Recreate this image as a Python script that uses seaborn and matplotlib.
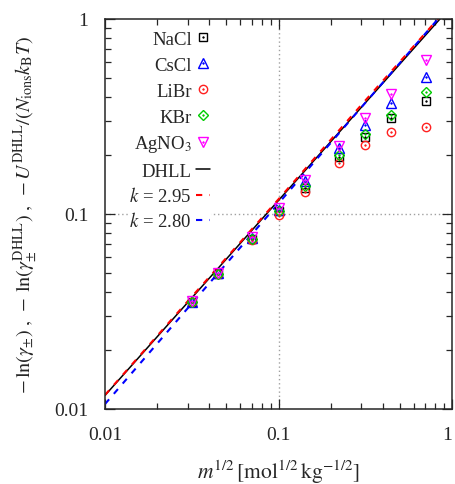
import numpy as np
import matplotlib
matplotlib.use("Agg")
import matplotlib.pyplot as plt
import seaborn as sns
from matplotlib.legend_handler import HandlerTuple
from matplotlib.ticker import LogLocator, FixedLocator, FixedFormatter, NullFormatter

# ---------------- data ----------------
sqrt_m = [0.0316, 0.0447, 0.0707, 0.1, 0.1414, 0.2236, 0.3162, 0.4472, 0.7071]
NaCl  = [0.0355, 0.0495, 0.0745, 0.103, 0.136, 0.196, 0.247, 0.310, 0.381]
CsCl  = [0.0355, 0.0497, 0.0755, 0.105, 0.148, 0.217, 0.286, 0.370, 0.502]
LiBr  = [0.0353, 0.0490, 0.0735, 0.099, 0.130, 0.183, 0.226, 0.264, 0.280]
KBr   = [0.0355, 0.0495, 0.0745, 0.103, 0.140, 0.201, 0.257, 0.322, 0.421]
AgNO3 = [0.0357, 0.0500, 0.0765, 0.107, 0.150, 0.224, 0.310, 0.412, 0.616]

line_x   = [0.01, 0.03, 0.1, 0.3, 1.0]
dhll_y   = [0.01174, 0.03522, 0.1174, 0.3522, 1.174]
k295_y   = [0.0118, 0.0357, 0.119, 0.362, 1.205]
k280_y   = [0.0106, 0.0329, 0.1133, 0.352, 1.21]

series_names = ["NaCl", "CsCl", "LiBr", "KBr", r"AgNO$_3$"]
series_vals = [NaCl, CsCl, LiBr, KBr, AgNO3]
series_colors = ["black", "#0000ff", "#ff2020", "#00cc00", "#ff00ff"]
series_markers = ["s", "^", "o", "D", "v"]
series_ms = [5.5, 6.5, 6.0, 5.5, 6.5]

tick_vals = [0.01, 0.1, 1]
tick_labels = ["0.01", "0.1", "1"]

# ---------------- style ----------------
sns.set_style("ticks")
plt.rcParams["font.family"] = ["Liberation Serif", "DejaVu Serif"]
plt.rcParams["mathtext.fontset"] = "stix"
plt.rcParams["axes.linewidth"] = 1.1

fig = plt.figure(figsize=(4.55, 4.85), dpi=100)
ax = fig.add_axes([105/455, 75/485, 347/455, 390/485])
ax.set_xscale("log")
ax.set_yscale("log")

# grid at 0.1 only
ax.axvline(0.1, color="#a0a0a0", ls=(0, (1, 2)), lw=1.0, zorder=0)
ax.axhline(0.1, color="#a0a0a0", ls=(0, (1, 2)), lw=1.0, zorder=0)

handles = []
labels = []
for name, vals, c, mk, ms in zip(series_names, series_vals, series_colors, series_markers, series_ms):
    sns.lineplot(x=sqrt_m, y=vals, ax=ax, linestyle="", marker=mk, ms=ms,
                 mfc="none", mec=c, mew=1.0, sort=False, zorder=3)
    h1 = ax.lines[-1]
    sns.lineplot(x=sqrt_m, y=vals, ax=ax, linestyle="", marker="o", ms=1.2,
                 mfc=c, mec=c, mew=0.4, sort=False, zorder=4)
    h2 = ax.lines[-1]
    handles.append((h1, h2))
    labels.append(name)

sns.lineplot(x=line_x, y=dhll_y, ax=ax, color="black", lw=1.1, sort=False, zorder=2)
handles.append(ax.lines[-1]); labels.append("DHLL")

sns.lineplot(x=line_x, y=k295_y, ax=ax, color="#ff0000", lw=1.5, sort=False, zorder=2)
l = ax.lines[-1]
l.set_linestyle((0, (3.0, 3.5)))
handles.append(l); labels.append(r"$k$ = 2.95")
sns.lineplot(x=line_x, y=k280_y, ax=ax, color="#0000ff", lw=1.5, sort=False, zorder=2)
l = ax.lines[-1]
l.set_linestyle((0, (3.0, 3.5)))
handles.append(l); labels.append(r"$k$ = 2.80")

ax.set_xlim(0.01, 1)
ax.set_ylim(0.01, 1)

for axis in (ax.xaxis, ax.yaxis):
    axis.set_major_locator(FixedLocator(tick_vals))
    axis.set_major_formatter(FixedFormatter(tick_labels))
    axis.set_minor_locator(LogLocator(base=10, subs=np.arange(2, 10)))
    axis.set_minor_formatter(NullFormatter())

ax.tick_params(which="both", direction="in", top=True, right=True, labelsize=14, width=0.9)
ax.tick_params(which="major", length=7)
ax.tick_params(which="minor", length=4)
ax.tick_params(axis="x", which="major", pad=12)
ax.tick_params(axis="y", which="major", pad=12)

# keep the "1" tick label inside the canvas
xt = ax.get_xticklabels()
xt[-1].set_horizontalalignment("right")

ax.set_xlabel(r"$m^{1/2}\,[\mathrm{mol}^{1/2}\,\mathrm{kg}^{-1/2}]$", fontsize=15.5, labelpad=11)
ax.set_ylabel(r"$-\,\ln(\gamma_{\pm})\;,\;-\,\ln(\gamma_{\pm}^{\mathrm{DHLL}})\;,\;-U^{\mathrm{DHLL}}/(N_{\mathrm{ions}}k_{\mathrm{B}}T)$",
              fontsize=14.5, labelpad=10)

# gnuplot-style key: one row per entry at a fixed pitch
leg_kw = dict(loc="center right", markerfirst=False, frameon=True, fontsize=13.5,
              handlelength=0.75, handletextpad=0.22, borderpad=0.05, borderaxespad=0.0,
              handler_map={tuple: HandlerTuple(ndivide=1)})
row_px = [40, 66, 92, 118, 145, 172, 197, 222]
for h, lab, ypx in zip(handles, labels, row_px):
    lg = ax.legend([h], [lab], bbox_to_anchor=(0.305, (410 - ypx) / 390), **leg_kw)
    lg.get_frame().set_facecolor("white")
    lg.get_frame().set_edgecolor("none")
    lg.get_frame().set_alpha(1.0)
    ax.add_artist(lg)

fig.savefig("out.png", dpi=100)
